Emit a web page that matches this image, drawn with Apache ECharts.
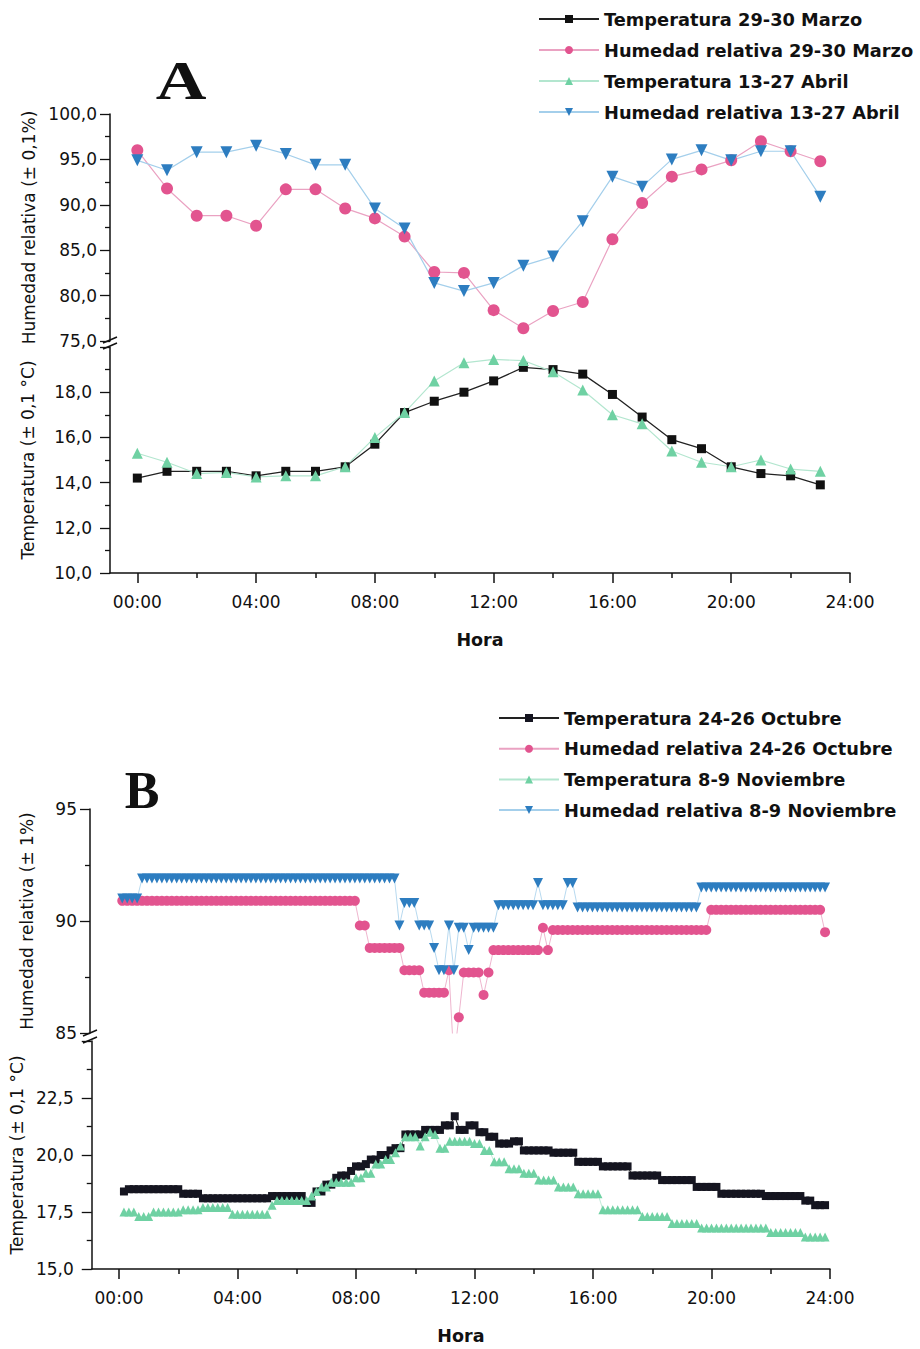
<!DOCTYPE html>
<html><head><meta charset="utf-8">
<script src="https://cdn.jsdelivr.net/npm/echarts@6/dist/echarts.min.js"></script>
<style>html,body{margin:0;padding:0;background:#fff}#c{width:920px;height:1349px}</style>
</head><body><div id="c"></div>
<script>
// ---------- Panel A (hourly) ----------
const hoursA = ['00:00','01:00','02:00','03:00','04:00','05:00','06:00','07:00','08:00','09:00','10:00','11:00',
                '12:00','13:00','14:00','15:00','16:00','17:00','18:00','19:00','20:00','21:00','22:00','23:00'];
const tempMarzo = [14.2,14.5,14.5,14.5,14.3,14.5,14.5,14.7,15.7,17.1,17.6,18.0,18.5,19.1,19.0,18.8,17.9,16.9,15.9,15.5,14.7,14.4,14.3,13.9];
const humMarzo  = [96.0,91.8,88.8,88.8,87.7,91.7,91.7,89.6,88.5,86.5,82.6,82.5,78.4,76.4,78.3,79.3,86.2,90.2,93.1,93.9,94.9,97.0,95.9,94.8];
const tempAbril = [15.3,14.9,14.4,14.45,14.25,14.3,14.3,14.7,16.0,17.1,18.5,19.3,19.45,19.4,18.9,18.1,17.0,16.6,15.4,14.9,14.7,15.0,14.6,14.5];
const humAbril  = [94.9,93.8,95.8,95.8,96.5,95.6,94.4,94.4,89.6,87.4,81.4,80.5,81.4,83.3,84.3,88.2,93.1,92.0,95.0,96.0,94.9,95.9,95.9,90.9];

// ---------- Panel B (10-minute readings) ----------
const timesB = [
'00:10','00:20','00:30','00:40','00:50',
'01:00','01:10','01:20','01:30','01:40','01:50',
'02:00','02:10','02:20','02:30','02:40','02:50',
'03:00','03:10','03:20','03:30','03:40','03:50',
'04:00','04:10','04:20','04:30','04:40','04:50',
'05:00','05:10','05:20','05:30','05:40','05:50',
'06:00','06:10','06:20','06:30','06:40','06:50',
'07:00','07:10','07:20','07:30','07:40','07:50',
'08:00','08:10','08:20','08:30','08:40','08:50',
'09:00','09:10','09:20','09:30','09:40','09:50',
'10:00','10:10','10:20','10:30','10:40','10:50',
'11:00','11:10','11:20','11:30','11:40','11:50',
'12:00','12:10','12:20','12:30','12:40','12:50',
'13:00','13:10','13:20','13:30','13:40','13:50',
'14:00','14:10','14:20','14:30','14:40','14:50',
'15:00','15:10','15:20','15:30','15:40','15:50',
'16:00','16:10','16:20','16:30','16:40','16:50',
'17:00','17:10','17:20','17:30','17:40','17:50',
'18:00','18:10','18:20','18:30','18:40','18:50',
'19:00','19:10','19:20','19:30','19:40','19:50',
'20:00','20:10','20:20','20:30','20:40','20:50',
'21:00','21:10','21:20','21:30','21:40','21:50',
'22:00','22:10','22:20','22:30','22:40','22:50',
'23:00','23:10','23:20','23:30','23:40','23:50'];

const tempOctubre = [
18.4,
18.5,18.5,18.5,18.5,18.5,18.5,18.5,18.5,18.5,18.5,18.5,
18.3,18.3,18.3,18.3,
18.1,18.1,18.1,18.1,18.1,18.1,18.1,18.1,18.1,18.1,18.1,18.1,18.1,18.1,
18.2,18.2,18.2,18.2,18.2,18.2,18.2,
17.9,17.9,
18.4,18.4,18.7,18.7,19.0,19.1,19.1,19.3,19.5,19.5,19.6,19.8,19.8,20.0,20.0,20.2,20.3,20.3,
20.9,20.9,20.9,20.9,21.1,21.1,21.1,21.1,21.3,21.3,21.7,21.1,21.1,21.3,21.3,21.0,21.0,20.8,20.8,
20.5,20.5,20.5,20.6,20.6,
20.2,20.2,20.2,20.2,20.2,20.2,
20.1,20.1,20.1,20.1,20.1,
19.7,19.7,19.7,19.7,19.7,
19.5,19.5,19.5,19.5,19.5,19.5,
19.1,19.1,19.1,19.1,19.1,19.1,
18.9,18.9,18.9,18.9,18.9,18.9,18.9,
18.6,18.6,18.6,18.6,18.6,
18.3,18.3,18.3,18.3,18.3,18.3,18.3,18.3,18.3,
18.2,18.2,18.2,18.2,18.2,18.2,18.2,18.2,
18.0,18.0,
17.8,17.8,17.8];

const humOctubre = [
90.9,90.9,90.9,90.9,90.9,90.9,90.9,90.9,90.9,90.9,90.9,90.9,
90.9,90.9,90.9,90.9,90.9,90.9,90.9,90.9,90.9,90.9,90.9,90.9,
90.9,90.9,90.9,90.9,90.9,90.9,90.9,90.9,90.9,90.9,90.9,90.9,
90.9,90.9,90.9,90.9,90.9,90.9,90.9,90.9,90.9,90.9,90.9,90.9,
89.8,89.8,
88.8,88.8,88.8,88.8,88.8,88.8,88.8,
87.8,87.8,87.8,87.8,
86.8,86.8,86.8,86.8,86.8,
87.8,83.8,85.7,
87.7,87.7,87.7,87.7,86.7,87.7,
88.7,88.7,88.7,88.7,88.7,88.7,88.7,88.7,88.7,88.7,
89.7,88.7,
89.6,89.6,89.6,89.6,89.6,89.6,89.6,89.6,89.6,89.6,89.6,89.6,
89.6,89.6,89.6,89.6,89.6,89.6,89.6,89.6,89.6,89.6,89.6,89.6,
89.6,89.6,89.6,89.6,89.6,89.6,89.6,89.6,
90.5,90.5,90.5,90.5,90.5,90.5,90.5,90.5,90.5,90.5,90.5,90.5,
90.5,90.5,90.5,90.5,90.5,90.5,90.5,90.5,90.5,90.5,90.5,
89.5];

const tempNoviembre = [
17.5,17.5,17.5,
17.3,17.3,17.3,
17.5,17.5,17.5,17.5,17.5,17.5,
17.6,17.6,17.6,17.6,
17.7,17.7,17.7,17.7,17.7,17.7,
17.4,17.4,17.4,17.4,17.4,17.4,17.4,17.4,
17.8,
18.0,18.0,18.0,18.0,18.0,18.0,18.0,
18.2,18.4,18.6,18.6,
18.8,18.8,18.8,18.8,18.8,
19.0,19.0,19.2,19.2,19.6,19.6,19.8,19.8,20.1,20.4,
20.8,20.8,20.8,20.4,20.8,21.0,20.9,20.3,20.3,
20.6,20.6,20.6,20.6,20.6,20.5,20.5,20.2,20.2,
19.7,19.7,19.7,19.4,19.4,19.4,19.2,19.2,19.2,
18.9,18.9,18.9,18.9,18.6,18.6,18.6,18.6,
18.3,18.3,18.3,18.3,18.3,
17.6,17.6,17.6,17.6,17.6,17.6,17.6,17.6,
17.3,17.3,17.3,17.3,17.3,17.3,
17.0,17.0,17.0,17.0,17.0,17.0,
16.8,16.8,16.8,16.8,16.8,16.8,16.8,16.8,16.8,16.8,16.8,16.8,16.8,16.8,
16.6,16.6,16.6,16.6,16.6,16.6,16.6,
16.4,16.4,16.4,16.4,16.4];

const humNoviembre = [
91.0,91.0,91.0,91.0,
91.9,91.9,91.9,91.9,91.9,91.9,91.9,91.9,91.9,91.9,91.9,91.9,91.9,
91.9,91.9,91.9,91.9,91.9,91.9,91.9,91.9,91.9,91.9,91.9,91.9,91.9,
91.9,91.9,91.9,91.9,91.9,91.9,91.9,91.9,91.9,91.9,91.9,91.9,91.9,
91.9,91.9,91.9,91.9,91.9,91.9,91.9,91.9,91.9,91.9,91.9,91.9,91.9,
89.8,
90.8,90.8,90.8,
89.8,89.8,89.8,
88.8,
87.8,87.8,
89.8,87.8,
89.7,89.7,88.7,
89.7,89.7,89.7,89.7,89.7,
90.7,90.7,90.7,90.7,90.7,90.7,90.7,90.7,
91.7,
90.7,90.7,90.7,90.7,90.7,
91.7,91.7,
90.6,90.6,90.6,90.6,90.6,90.6,90.6,90.6,90.6,90.6,90.6,90.6,90.6,
90.6,90.6,90.6,90.6,90.6,90.6,90.6,90.6,90.6,90.6,90.6,90.6,
91.5,91.5,91.5,91.5,91.5,91.5,91.5,91.5,91.5,91.5,91.5,91.5,91.5,
91.5,91.5,91.5,91.5,91.5,91.5,91.5,91.5,91.5,91.5,91.5,91.5,91.5];

// ---------- helpers ----------
function toH(t){ const p = t.split(':'); return Number(p[0]) + Number(p[1]) / 60; }
function pairs(times, vals){ return times.map((t, i) => [toH(t), vals[i]]); }
const FONT = 'DejaVu Sans';
const comma1 = v => v.toFixed(1).replace('.', ',');
const hhmm = v => (v < 10 ? '0' : '') + v + ':00';
const xMajor = [0,4,8,12,16,20,24];
const xMinor = [2,6,10,14,18,22];
const XMIN = -0.92, XMAX = 24;
const axisLineStyle = {color:'#111', width:1.5};

function xHidden(g){ return {type:'value', gridIndex:g, min:XMIN, max:XMAX, show:false}; }
function xMain(g){
  return {type:'value', gridIndex:g, min:XMIN, max:XMAX, position:'bottom',
    axisLine:{show:true, onZero:false, lineStyle:axisLineStyle},
    axisTick:{show:true, length:10, customValues:xMajor, lineStyle:{color:'#111', width:1.5}},
    axisLabel:{show:true, customValues:xMajor, formatter:hhmm, margin:20, color:'#111', fontFamily:FONT, fontSize:17},
    splitLine:{show:false},
    name:'Hora', nameLocation:'middle', nameGap:58,
    nameTextStyle:{fontFamily:FONT, fontSize:17.5, fontWeight:'bold', color:'#111'}};
}
function xMinorAx(g){
  return {type:'value', gridIndex:g, min:XMIN, max:XMAX, position:'bottom',
    axisLine:{show:false},
    axisTick:{show:true, length:5, customValues:xMinor, lineStyle:{color:'#111', width:1.5}},
    axisLabel:{show:false}, splitLine:{show:false}};
}
function yAx(g, min, max, interval, name, fmt, nameGap, margin, hideMax){
  return {type:'value', gridIndex:g, min:min, max:max, interval:interval,
    axisLine:{show:true, onZero:false, lineStyle:axisLineStyle},
    axisTick:{show:true, length:10, lineStyle:{color:'#111', width:1.3}},
    minorTick:{show:true, splitNumber:2, length:5, lineStyle:{color:'#111', width:1.3}},
    axisLabel:{formatter:fmt, margin:margin, color:'#111', fontFamily:FONT, fontSize:17, showMaxLabel: hideMax ? false : true},
    splitLine:{show:false},
    name:name, nameLocation:'middle', nameRotate:90, nameGap:nameGap,
    nameTextStyle:{fontFamily:FONT, fontSize:17, color:'#111'}};
}
function lineSeries(name, xi, yi, data, symbol, size, color, lineColor, rotate, lw){
  return {name:name, type:'line', xAxisIndex:xi, yAxisIndex:yi, data:data,
    symbol:symbol, symbolSize:size, symbolRotate:rotate || 0, showSymbol:true, showAllSymbol:true,
    itemStyle:{color:color}, lineStyle:{color:lineColor, width:lw || 1.2},
    emphasis:{disabled:true}, clip:true, animation:false};
}

const legendText = {fontFamily:FONT, fontSize:17.8, fontWeight:'bold', color:'#111', lineHeight:20};

const option = {
  animation:false,
  backgroundColor:'#ffffff',
  grid:[
    {left:110, top:114, width:740, height:227},
    {left:110, top:347, width:740, height:226},
    {left:90,  top:809, width:740, height:224},
    {left:90,  top:1041, width:740, height:228}
  ],
  xAxis:[ xHidden(0), xMain(1), xMinorAx(1), xHidden(2), xMain(3), xMinorAx(3) ],
  yAxis:[
    yAx(0, 75, 100, 5, 'Humedad relativa (± 0,1%)', comma1, 70, 13, false),
    yAx(1, 10, 20, 2, 'Temperatura (± 0,1 °C)', comma1, 74, 18, true),
    yAx(2, 85, 95, 5, 'Humedad relativa (± 1%)', v => String(v), 55, 13, false),
    yAx(3, 15, 25, 2.5, 'Temperatura (± 0,1 °C)', comma1, 64, 18, true)
  ],
  legend:[
    {orient:'vertical', left:538, top:9, padding:0, itemWidth:60, itemHeight:10, itemGap:11,
     textStyle:legendText, selectedMode:false,
     data:['Temperatura 29-30 Marzo','Humedad relativa 29-30 Marzo','Temperatura 13-27 Abril','Humedad relativa 13-27 Abril']},
    {orient:'vertical', left:498, top:708, padding:0, itemWidth:60, itemHeight:10, itemGap:10.7,
     textStyle:legendText, selectedMode:false,
     data:['Temperatura 24-26 Octubre','Humedad relativa 24-26 Octubre','Temperatura 8-9 Noviembre','Humedad relativa 8-9 Noviembre']}
  ],
  graphic:[
    {type:'text', x:181, y:81, scaleX:1.3, style:{text:'A', font:'bold 54px "Liberation Serif"', fill:'#111', textAlign:'center', textVerticalAlign:'middle'}},
    {type:'text', x:142, y:790, style:{text:'B', font:'bold 52px "Liberation Serif"', fill:'#111', textAlign:'center', textVerticalAlign:'middle'}},
    {type:'line', shape:{x1:103, y1:343, x2:117, y2:337}, style:{stroke:'#111', lineWidth:1.5}},
    {type:'line', shape:{x1:103, y1:349, x2:117, y2:343}, style:{stroke:'#111', lineWidth:1.5}},
    {type:'line', shape:{x1:83, y1:1036, x2:97, y2:1030}, style:{stroke:'#111', lineWidth:1.5}},
    {type:'line', shape:{x1:83, y1:1043, x2:97, y2:1037}, style:{stroke:'#111', lineWidth:1.5}}
  ],
  series:[
    lineSeries('Temperatura 29-30 Marzo', 1, 1, pairs(hoursA, tempMarzo), 'rect', 9, '#111111', '#222222', 0, 1.3),
    lineSeries('Humedad relativa 29-30 Marzo', 0, 0, pairs(hoursA, humMarzo), 'circle', 12, '#e2548f', '#eaa2c2', 0, 1.2),
    lineSeries('Temperatura 13-27 Abril', 1, 1, pairs(hoursA, tempAbril), 'triangle', 11, '#6fd1a3', '#b3e6cf', 0, 1.2),
    lineSeries('Humedad relativa 13-27 Abril', 0, 0, pairs(hoursA, humAbril), 'triangle', 12, '#2d7dc0', '#a4cfeb', 180, 1.2),

    lineSeries('Temperatura 24-26 Octubre', 4, 3, pairs(timesB, tempOctubre), 'rect', 8, '#151520', '#222222', 0, 1),
    lineSeries('Humedad relativa 24-26 Octubre', 3, 2, pairs(timesB, humOctubre), 'circle', 10, '#e2548f', '#eaa2c2', 0, 0.8),
    lineSeries('Temperatura 8-9 Noviembre', 4, 3, pairs(timesB, tempNoviembre), 'triangle', 9, '#6fd1a3', '#b3e6cf', 0, 0.8),
    lineSeries('Humedad relativa 8-9 Noviembre', 3, 2, pairs(timesB, humNoviembre), 'triangle', 10, '#2d7dc0', '#a4cfeb', 180, 0.8)
  ]
};

const chart = echarts.init(document.getElementById('c'), null, {renderer:'svg'});
chart.setOption(option);
</script>
</body></html>
